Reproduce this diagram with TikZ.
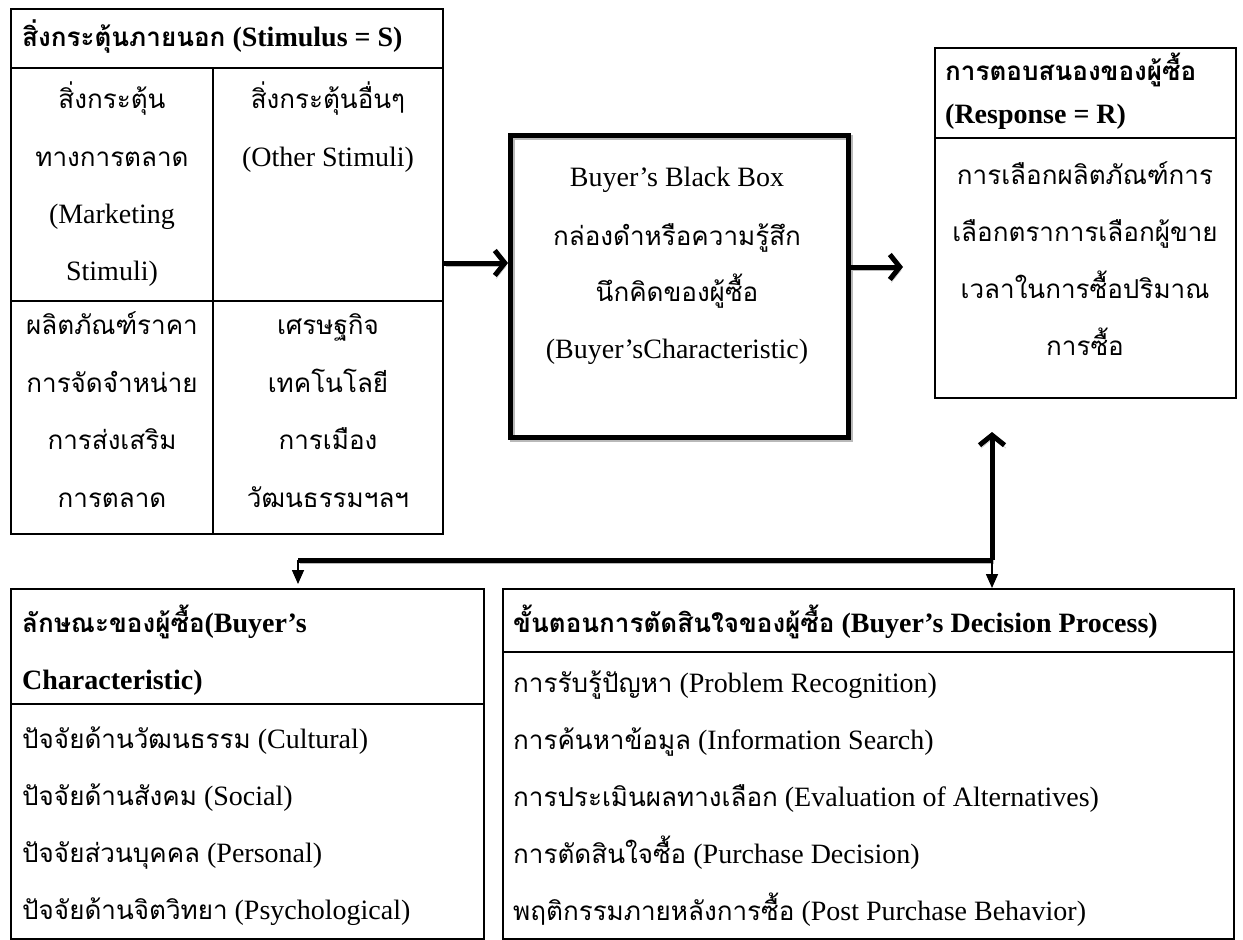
\documentclass[tikz,border=0pt]{standalone}
\usepackage{fontspec}
\setmainfont{Liberation Serif}
\newfontfamily\thaifont[Script=Thai, Scale=0.93]{Loma}
\newcommand\T[1]{{\thaifont #1}}
\usetikzlibrary{arrows.meta}
\begin{document}
\begin{tikzpicture}[x=1pt,y=-1pt,
  box/.style={draw, line width=2pt, anchor=north west, inner sep=0pt},
  divline/.style={line width=1.6pt},
  txt/.style={inner sep=0pt, anchor=mid, yshift=-6pt, font=\fontsize{28}{32}\selectfont},
  txtl/.style={txt, anchor=mid west},
  hd/.style={inner sep=0pt, anchor=mid west, yshift=-6pt, font=\fontsize{28}{32}\selectfont\bfseries},
  shade/.style={preaction={draw=gray!55, transform canvas={shift={(1.5pt,-3pt)}}}},
  bigarrow/.style={line width=5pt, -{Straight Barb[length=10pt,width=25pt]}, shade},
  bigline/.style={line width=5pt, shade},
  thinarrow/.style={line width=1.6pt, -{Triangle[length=14pt,width=12pt]}}
]
\useasboundingbox (0,0) rectangle (1243,940);

% ---- top-left stimulus table
\node[box, minimum width=432pt, minimum height=525pt] (stim) at (10,8) {};
\draw[divline] (10,68) -- (442,68);
\draw[divline] (10,301) -- (442,301);
\draw[divline] (213,68) -- (213,533);
\node[hd] (s0) at (22,38) {\T{สิ่งกระตุ้นภายนอก} (Stimulus = S)};
\node[txt] (s1) at (112,100) {\T{สิ่งกระตุ้น}};
\node[txt] (s2) at (112,158) {\T{ทางการตลาด}};
\node[txt] (s3) at (112,215) {(Marketing};
\node[txt] (s4) at (112,272) {Stimuli)};
\node[txt] (o1) at (328,100) {\T{สิ่งกระตุ้นอื่นๆ}};
\node[txt] (o2) at (328,158) {(Other Stimuli)};
\node[txt] (m1) at (112,326) {\T{ผลิตภัณฑ์ราคา}};
\node[txt] (m2) at (112,384) {\T{การจัดจำหน่าย}};
\node[txt] (m3) at (112,441) {\T{การส่งเสริม}};
\node[txt] (m4) at (112,499) {\T{การตลาด}};
\node[txt] (e1) at (328,326) {\T{เศรษฐกิจ}};
\node[txt] (e2) at (328,384) {\T{เทคโนโลยี}};
\node[txt] (e3) at (328,441) {\T{การเมือง}};
\node[txt] (e4) at (328,499) {\T{วัฒนธรรมฯลฯ}};

% ---- black box
\node[draw, line width=5pt, anchor=north west, minimum width=338pt, minimum height=302pt,
      preaction={draw=gray!55, line width=5pt, transform canvas={shift={(1.5pt,-2pt)}}}] (bbox) at (508,133) {};
\node[txt] (b1) at (677,178) {Buyer’s Black Box};
\node[txt] (b2) at (677,237) {\T{กล่องดำหรือความรู้สึก}};
\node[txt] (b3) at (677,293) {\T{นึกคิดของผู้ซื้อ}};
\node[txt] (b4) at (677,350) {(Buyer’sCharacteristic)};

% ---- response box
\node[box, minimum width=301pt, minimum height=350pt] (resp) at (934,47) {};
\draw[divline] (934,138) -- (1235,138);
\node[hd] (r0) at (945,72) {\T{การตอบสนองของผู้ซื้อ}};
\node[hd] (r1) at (945,115) {(Response = R)};
\node[txt] (r2) at (1085,176) {\T{การเลือกผลิตภัณฑ์การ}};
\node[txt] (r3) at (1085,233) {\T{เลือกตราการเลือกผู้ขาย}};
\node[txt] (r4) at (1085,290) {\T{เวลาในการซื้อปริมาณ}};
\node[txt] (r5) at (1085,347) {\T{การซื้อ}};

% ---- buyer characteristic box
\node[box, minimum width=473pt, minimum height=350pt] (buyer) at (10,588) {};
\draw[divline] (10,704) -- (483,704);
\node[hd] (c0) at (22,624) {\T{ลักษณะของผู้ซื้อ}(Buyer’s};
\node[hd] (c1) at (22,681) {Characteristic)};
\node[txtl] (c2) at (22,740) {\T{ปัจจัยด้านวัฒนธรรม} (Cultural)};
\node[txtl] (c3) at (22,797) {\T{ปัจจัยด้านสังคม} (Social)};
\node[txtl] (c4) at (22,854) {\T{ปัจจัยส่วนบุคคล} (Personal)};
\node[txtl] (c5) at (22,911) {\T{ปัจจัยด้านจิตวิทยา} (Psychological)};

% ---- decision process box
\node[box, minimum width=731pt, minimum height=350pt] (proc) at (502,588) {};
\draw[divline] (502,652) -- (1233,652);
\node[hd] (d0) at (513,624) {\T{ขั้นตอนการตัดสินใจของผู้ซื้อ} (Buyer’s Decision Process)};
\node[txtl] (d1) at (513,684) {\T{การรับรู้ปัญหา} (Problem Recognition)};
\node[txtl] (d2) at (513,741) {\T{การค้นหาข้อมูล} (Information Search)};
\node[txtl] (d3) at (513,798) {\T{การประเมินผลทางเลือก} (Evaluation of Alternatives)};
\node[txtl] (d4) at (513,855) {\T{การตัดสินใจซื้อ} (Purchase Decision)};
\node[txtl] (d5) at (513,912) {\T{พฤติกรรมภายหลังการซื้อ} (Post Purchase Behavior)};

% ---- connectors
\coordinate (a1) at (444,263);
\draw[bigarrow] (a1) -- (a1 -| bbox.west);
\coordinate (a2) at (903,267);
\draw[bigarrow] (a2 -| bbox.east) -- (a2);
\coordinate (j) at (992,560);
\coordinate (up) at (992,432);
\coordinate (hl) at (298,560);
\draw[bigline] (j) -- (hl);
\draw[bigarrow] (j) -- (up);
\draw[thinarrow, shorten >=4pt] (hl) -- (hl |- buyer.north);
\draw[thinarrow] (j) -- (j |- proc.north);
\end{tikzpicture}
\end{document}
